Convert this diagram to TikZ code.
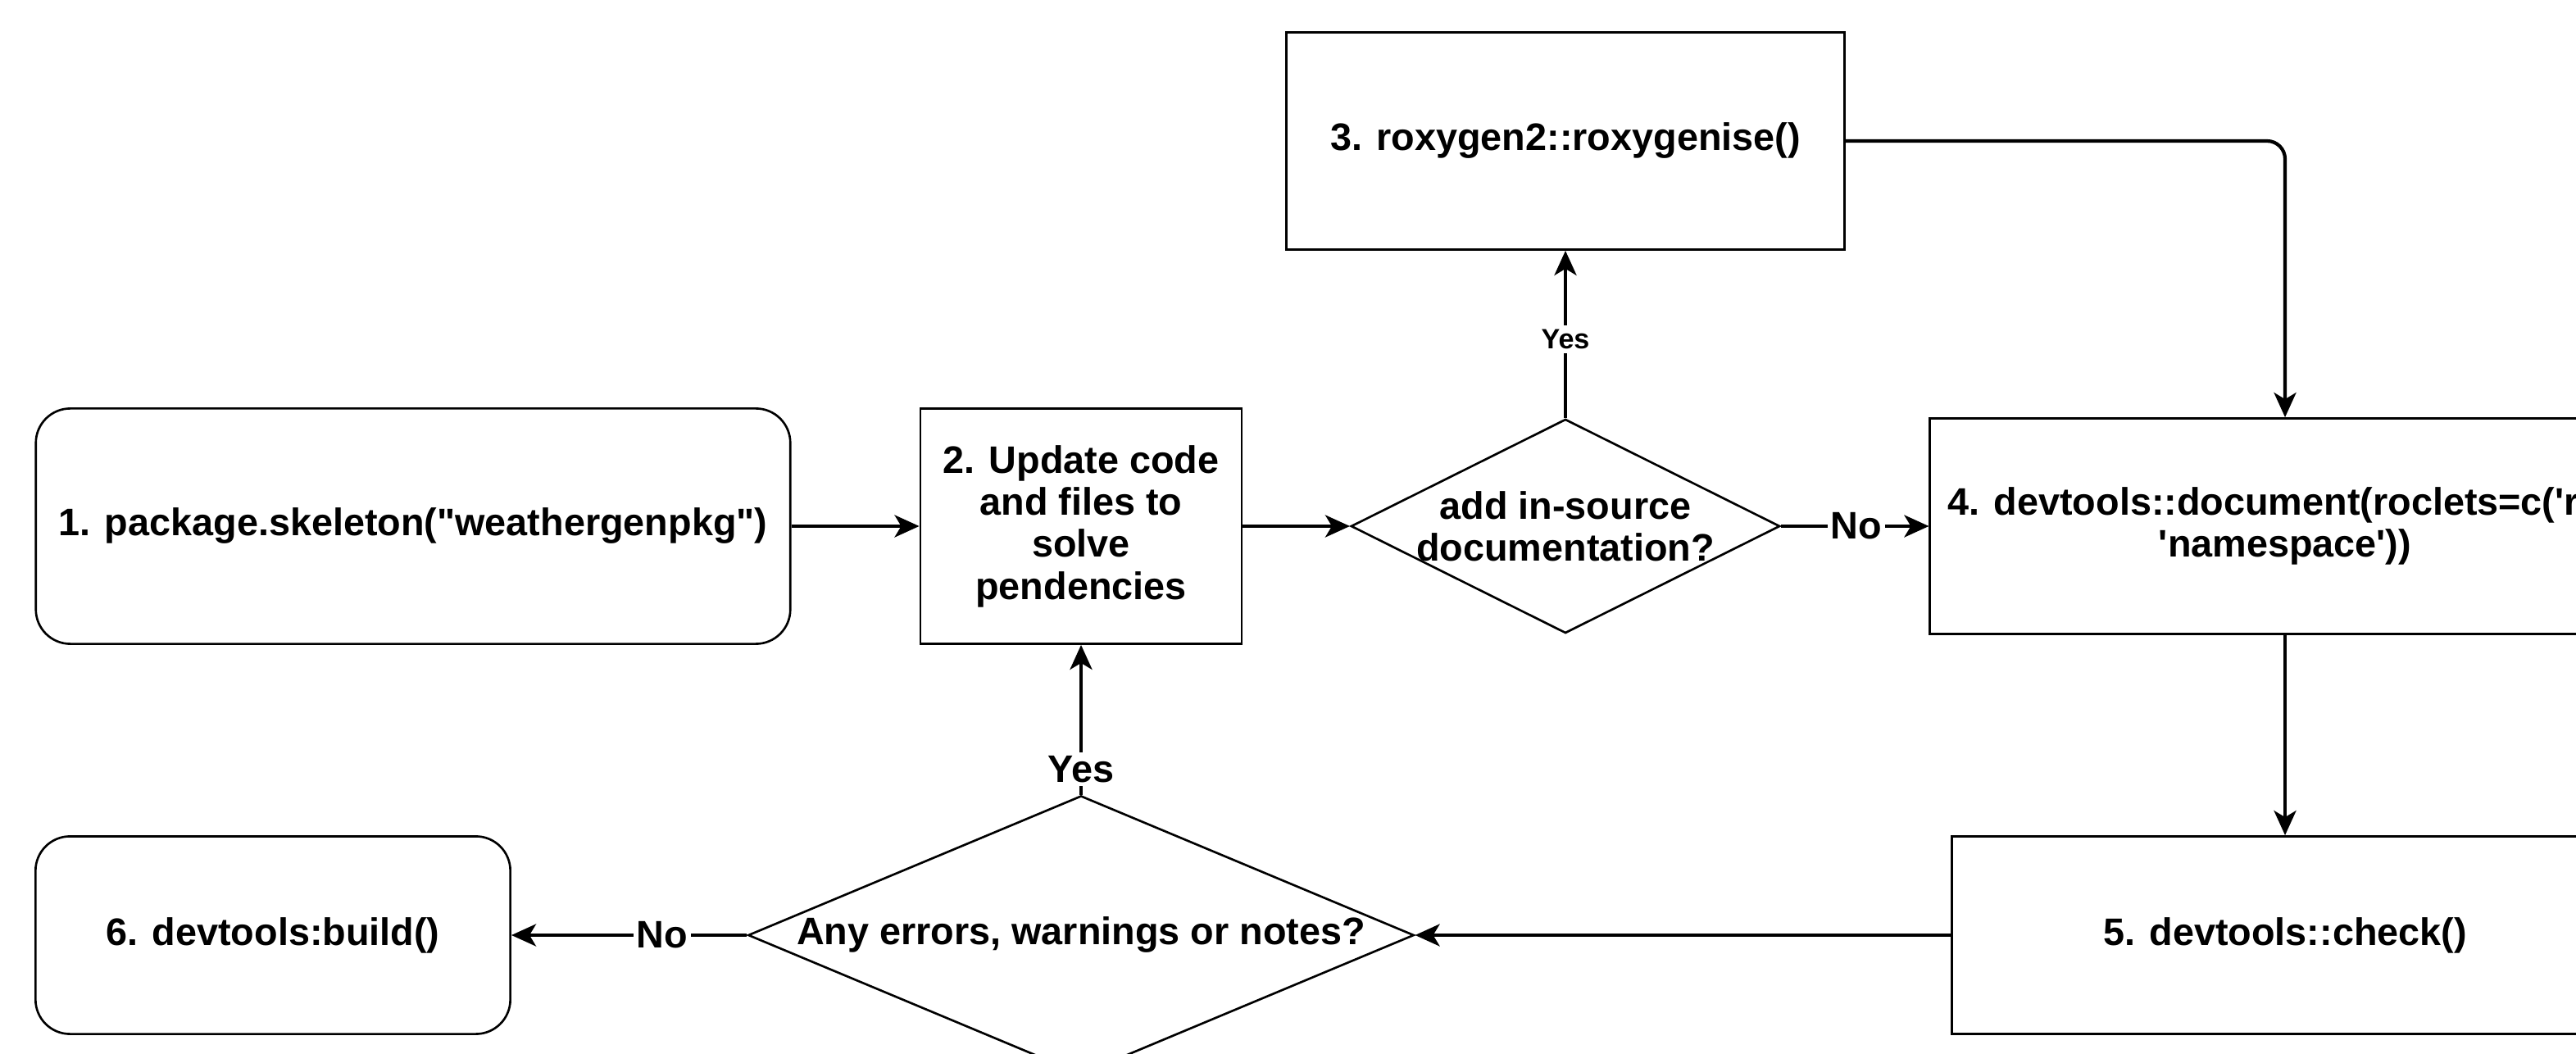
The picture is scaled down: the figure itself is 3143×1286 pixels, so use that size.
\documentclass[tikz,border=0pt]{standalone}
\usepackage{fontspec}
\setmainfont{Liberation Sans}[Ligatures=TeXOff]
\usetikzlibrary{shapes.geometric,arrows.meta}
\begin{document}
\begin{tikzpicture}[x=0.01cm,y=-0.01cm,
  every node/.style={font=\bfseries\fontsize{13.3}{14.6}\selectfont},
  box/.style={draw, line width=0.75pt, inner sep=2pt, align=center},
  rbox/.style={box, rounded corners=0.42cm},
  decis/.style={draw, line width=0.75pt, diamond, inner sep=0pt},
  conn/.style={line width=1.2pt, -{Stealth[length=0.3cm,width=0.27cm,inset=0.08cm]}},
  lbl/.style={fill=white, inner sep=1.2pt},
  smalllbl/.style={fill=white, inner sep=1.5pt, font=\bfseries\fontsize{9.7}{11}\selectfont}
]
\useasboundingbox (0,0) rectangle (3143,1286);
\clip (0,0) rectangle (3143,1286);

\node[rbox, minimum width=9.2cm, minimum height=2.87cm] (n1) at (504,642) {1. package.skeleton("weathergenpkg")};
\node[box, minimum width=3.92cm, minimum height=2.87cm] (n2) at (1319,642) {2. Update code\\and files to\\solve\\pendencies};
\node[decis, minimum width=5.23cm, minimum height=2.61cm,
      label={[align=center]center:add in-source\\documentation?}] (d1) at (1910,642) {};
\node[box, minimum width=6.81cm, minimum height=2.65cm] (n3) at (1910,172) {3. roxygen2::roxygenise()};
\node[box, minimum width=8.66cm, minimum height=2.63cm] (n4) at (2788,642) {4. devtools::document(roclets=c('rd',\\'namespace'))};
\node[box, minimum width=8.12cm, minimum height=2.41cm] (n5) at (2788,1141) {5. devtools::check()};
\node[decis, minimum width=8.12cm, minimum height=3.4cm,
      label={center:Any errors, warnings or notes?}] (d2) at (1319,1141) {};
\node[rbox, minimum width=5.79cm, minimum height=2.41cm] (n6) at (333,1141) {6. devtools:build()};

\draw[conn] (n1) -- (n2);
\draw[conn] (n2) -- (d1);
\draw[conn] (d1.north) -- node[smalllbl, pos=0.47] (y1) {Yes} (n3.south);
\draw[conn] (d1.east) -- node[lbl, pos=0.51] (no1) {No} (n4.west);
\draw[conn, rounded corners=0.22cm] (n3.east) -| (n4.north);
\draw[conn] (n4.south) -- (n5.north);
\draw[conn] (n5.west) -- (d2.east);
\draw[conn] (d2.north) -- node[lbl, pos=0.17] (y2) {Yes} (n2.south);
\draw[conn] (d2.west) -- node[lbl, pos=0.36] (no2) {No} (n6.east);
\end{tikzpicture}
\end{document}
